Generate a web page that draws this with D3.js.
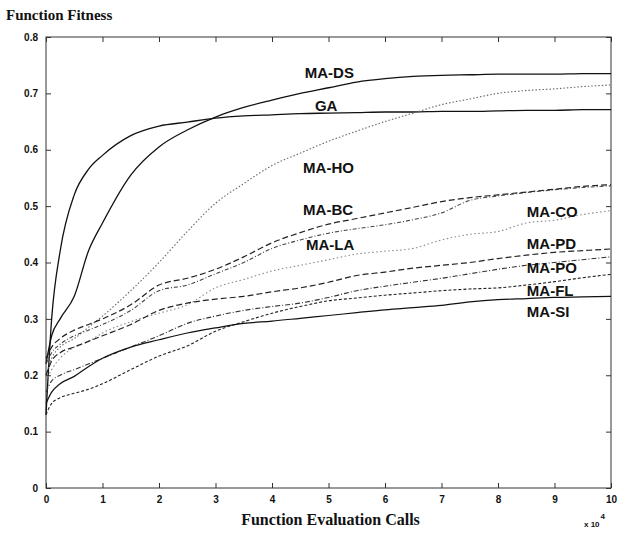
<!DOCTYPE html>
<html lang="en">
<head>
<meta charset="UTF-8">
<title>Function Fitness</title>
<script src="https://d3js.org/d3.v7.min.js"></script>
<style>
  body { margin: 0; background: #fff; }
  svg { display: block; }
  .tick text { font: bold 10px "Liberation Sans", Arial, sans-serif; fill: #111; }
  .lbl { font: bold 15px "Liberation Sans", Arial, sans-serif; fill: #111; }
  .serif { font-family: "Liberation Serif", "Times New Roman", serif; font-weight: bold; fill: #111; }
</style>
</head>
<body>
<svg id="chart"></svg>
<script>
// evaluation calls (x 10^4)
const calls = [0, 0.1, 0.25, 0.5, 0.75, 1, 1.5, 2, 2.5, 3, 3.5, 4, 4.5, 5, 5.5, 6, 6.5, 7, 7.5, 8, 8.5, 9, 9.5, 10];

const GA    = [0.13, 0.30, 0.42, 0.52, 0.565, 0.59, 0.625, 0.642, 0.649, 0.656, 0.66, 0.662, 0.664, 0.665, 0.666, 0.667, 0.667, 0.668, 0.668, 0.669, 0.67, 0.67, 0.671, 0.671];
const MA_DS = [0.22, 0.27, 0.30, 0.34, 0.42, 0.47, 0.555, 0.605, 0.635, 0.658, 0.675, 0.688, 0.70, 0.71, 0.72, 0.726, 0.73, 0.732, 0.733, 0.734, 0.734, 0.734, 0.735, 0.735];
const MA_HO = [0.20, 0.23, 0.25, 0.265, 0.285, 0.305, 0.35, 0.40, 0.455, 0.505, 0.54, 0.572, 0.594, 0.615, 0.633, 0.65, 0.665, 0.68, 0.69, 0.70, 0.705, 0.708, 0.712, 0.715];
const MA_BC = [0.23, 0.25, 0.265, 0.28, 0.29, 0.30, 0.325, 0.36, 0.372, 0.388, 0.41, 0.435, 0.453, 0.468, 0.478, 0.488, 0.498, 0.508, 0.515, 0.52, 0.525, 0.53, 0.535, 0.538];
const MA_LA = [0.22, 0.24, 0.255, 0.27, 0.28, 0.29, 0.315, 0.35, 0.36, 0.38, 0.40, 0.425, 0.44, 0.452, 0.46, 0.467, 0.476, 0.488, 0.51, 0.518, 0.524, 0.529, 0.533, 0.536];
const MA_CO = [0.19, 0.21, 0.23, 0.25, 0.26, 0.275, 0.295, 0.31, 0.325, 0.355, 0.37, 0.385, 0.395, 0.405, 0.415, 0.42, 0.425, 0.44, 0.45, 0.455, 0.47, 0.475, 0.485, 0.492];
const MA_PD = [0.20, 0.225, 0.24, 0.25, 0.26, 0.27, 0.29, 0.315, 0.328, 0.335, 0.34, 0.348, 0.355, 0.365, 0.377, 0.383, 0.39, 0.395, 0.40, 0.407, 0.413, 0.418, 0.421, 0.424];
const MA_PO = [0.17, 0.19, 0.20, 0.21, 0.22, 0.23, 0.25, 0.27, 0.292, 0.305, 0.315, 0.322, 0.328, 0.338, 0.35, 0.358, 0.365, 0.372, 0.38, 0.388, 0.395, 0.40, 0.405, 0.41];
const MA_FL = [0.13, 0.15, 0.16, 0.168, 0.175, 0.185, 0.21, 0.234, 0.252, 0.278, 0.295, 0.31, 0.322, 0.332, 0.337, 0.342, 0.346, 0.35, 0.353, 0.355, 0.36, 0.366, 0.373, 0.379];
const MA_SI = [0.15, 0.17, 0.185, 0.198, 0.215, 0.23, 0.25, 0.263, 0.275, 0.284, 0.292, 0.296, 0.301, 0.306, 0.311, 0.316, 0.32, 0.324, 0.33, 0.334, 0.336, 0.338, 0.339, 0.34];

const names  = ["MA-DS", "GA", "MA-HO", "MA-BC", "MA-LA", "MA-CO", "MA-PD", "MA-PO", "MA-FL", "MA-SI"];
const values = [MA_DS, GA, MA_HO, MA_BC, MA_LA, MA_CO, MA_PD, MA_PO, MA_FL, MA_SI];
// where each name is written (data units)
const labelAt = [[4.58, 0.728], [4.76, 0.669], [4.55, 0.558], [4.55, 0.484], [4.6, 0.422], [8.51, 0.480], [8.51, 0.424], [8.51, 0.382], [8.51, 0.340], [8.51, 0.304]];

const yTicks = [0, 0.1, 0.2, 0.3, 0.4, 0.5, 0.6, 0.7, 0.8];
const xTicks = [0, 1, 2, 3, 4, 5, 6, 7, 8, 9, 10];

const width = 618, height = 534;
const svg = d3.select("#chart").attr("width", width).attr("height", height);

const x = d3.scaleLinear().domain([0, 10]).range([46, 611]);
const y = d3.scaleLinear().domain([0, 0.8]).range([488, 37]);

const styles = {
  "GA":    { dash: null,      color: "#111", w: 1.3 },
  "MA-DS": { dash: null,      color: "#111", w: 1.3 },
  "MA-SI": { dash: null,      color: "#111", w: 1.2 },
  "MA-HO": { dash: "1.5,2",   color: "#666", w: 1.1 },
  "MA-CO": { dash: "1.5,2.5", color: "#888", w: 1.1 },
  "MA-BC": { dash: "6,3",     color: "#222", w: 1.2 },
  "MA-LA": { dash: "4,2,1,2", color: "#444", w: 1.1 },
  "MA-PD": { dash: "6,3",     color: "#222", w: 1.2 },
  "MA-PO": { dash: "5,2,1,2", color: "#333", w: 1.1 },
  "MA-FL": { dash: "3,2",     color: "#222", w: 1.1 }
};

// frame
svg.append("rect")
  .attr("x", x(0)).attr("y", y(0.8))
  .attr("width", x(10) - x(0)).attr("height", y(0) - y(0.8))
  .attr("fill", "none").attr("stroke", "#333").attr("stroke-width", 1);

// axes with inward ticks
const yAxis = svg.append("g").attr("transform", `translate(${x(0)},0)`)
  .call(d3.axisLeft(y).tickValues(yTicks).tickSize(-5).tickPadding(8).tickFormat(d => d === 0 ? "0" : d3.format(".1f")(d)));
const yAxisR = svg.append("g").attr("transform", `translate(${x(10)},0)`)
  .call(d3.axisRight(y).tickValues(yTicks).tickSize(-5).tickFormat(""));
const xAxis = svg.append("g").attr("transform", `translate(0,${y(0)})`)
  .call(d3.axisBottom(x).tickValues(xTicks).tickSize(-5).tickPadding(8).tickFormat(d3.format("d")));
const xAxisT = svg.append("g").attr("transform", `translate(0,${y(0.8)})`)
  .call(d3.axisTop(x).tickValues(xTicks).tickSize(-5).tickFormat(""));
[yAxis, yAxisR, xAxis, xAxisT].forEach(a => {
  a.select(".domain").remove();
  a.selectAll(".tick line").attr("stroke", "#333");
});

// curves
const line = d3.line()
  .x((d, i) => x(calls[i]))
  .y(d => y(d))
  .curve(d3.curveMonotoneX);

names.forEach((n, k) => {
  const s = styles[n];
  svg.append("path")
    .datum(values[k])
    .attr("d", line)
    .attr("fill", "none")
    .attr("stroke", s.color)
    .attr("stroke-width", s.w)
    .attr("stroke-dasharray", s.dash);
});

// curve names
svg.selectAll(".lbl").data(names).join("text")
  .attr("class", "lbl")
  .attr("x", (d, i) => x(labelAt[i][0]))
  .attr("y", (d, i) => y(labelAt[i][1]))
  .text(d => d);

// titles
svg.append("text").attr("class", "serif")
  .attr("x", 6).attr("y", 20).style("font-size", "15px")
  .text("Function Fitness");
svg.append("text").attr("class", "serif")
  .attr("x", (x(0) + x(10)) / 2 + 2).attr("y", 525).attr("text-anchor", "middle").style("font-size", "16px")
  .text("Function Evaluation Calls");
const mult = svg.append("text")
  .attr("x", 584).attr("y", 527)
  .style("font", "bold 8px 'Liberation Sans', Arial, sans-serif").style("fill", "#111");
mult.append("tspan").text("x 10");
mult.append("tspan").attr("dy", -8).attr("dx", 1).text("4");
</script>
</body>
</html>
